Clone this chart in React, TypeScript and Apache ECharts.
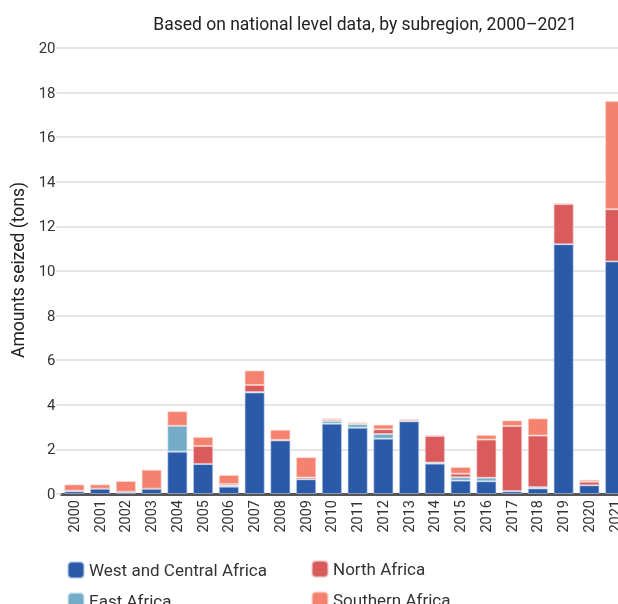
import React, { useEffect, useRef } from "react";
import * as echarts from "echarts";

const years = ["2000","2001","2002","2003","2004","2005","2006","2007","2008","2009","2010","2011","2012","2013","2014","2015","2016","2017","2018","2019","2020","2021"];
const westCentral = [0.12,0.24,0.08,0.24,1.9,1.35,0.33,4.55,2.4,0.66,3.15,2.97,2.48,3.26,1.36,0.6,0.57,0.12,0.25,11.2,0.39,10.43];
const eastAfrica = [0.03,0,0.02,0,1.16,0,0.05,0.02,0.01,0,0.12,0.16,0.21,0,0.05,0.15,0.16,0.02,0.06,0,0,0];
const northAfrica = [0,0,0,0,0,0.8,0.07,0.32,0.02,0.08,0.06,0.04,0.21,0.05,1.19,0.16,1.71,2.91,2.31,1.8,0.16,2.34];
const southernAfrica = [0.28,0.19,0.48,0.85,0.65,0.41,0.4,0.65,0.45,0.91,0.06,0.04,0.21,0.05,0.05,0.3,0.21,0.25,0.77,0.04,0.09,4.85];
const yTicks = { min: 0, max: 20, interval: 2 };

const FONT = "Roboto, 'Noto Sans', sans-serif";

export default function App() {
  const ref = useRef<HTMLDivElement>(null);
  useEffect(() => {
    if (!ref.current) return;
    const chart = echarts.init(ref.current, null, { renderer: "svg" });
    const mk = (name: string, data: number[], color: string, border: string) => ({
      name,
      type: "bar",
      stack: "total",
      data,
      barCategoryGap: "22%",
      itemStyle: { color, borderColor: border, borderWidth: 1 },
      emphasis: { disabled: true },
    });
    chart.setOption({
      animation: false,
      textStyle: { fontFamily: FONT },
      title: {
        text: "Based on national level data, by subregion, 2000–2021",
        left: 360,
        top: 10,
        textAlign: "center",
        textStyle: { fontFamily: FONT, fontSize: 17.5, fontWeight: "normal", color: "#222" },
      },
      grid: { left: 61.5, right: 12, top: 48, bottom: 146, containLabel: false },
      xAxis: {
        type: "category",
        data: years,
        axisTick: { show: false },
        axisLine: { lineStyle: { color: "#555", width: 3 } },
        axisLabel: { rotate: 90, fontSize: 14.5, color: "#333", margin: 6, fontFamily: FONT },
      },
      yAxis: {
        type: "value",
        min: yTicks.min,
        max: yTicks.max,
        interval: yTicks.interval,
        axisLine: { show: false },
        axisTick: { show: true, length: 5.5, lineStyle: { color: "#dcdcdc", width: 1.5 } },
        splitLine: { lineStyle: { color: "#dcdcdc", width: 1.5 } },
        axisLabel: { fontSize: 15, color: "#333", margin: 6, fontFamily: FONT },
      },
      legend: [
        {
          orient: "vertical",
          left: 67,
          top: 561,
          padding: 0,
          itemWidth: 16,
          itemHeight: 16,
          itemGap: 13,
          data: ["West and Central Africa", "East Africa"],
          textStyle: { fontSize: 17, color: "#333", fontFamily: FONT },
          selectedMode: false,
        },
        {
          orient: "vertical",
          left: 311,
          top: 560,
          padding: 0,
          itemWidth: 16,
          itemHeight: 16,
          itemGap: 13,
          data: ["North Africa", "Southern Africa"],
          textStyle: { fontSize: 17, color: "#333", fontFamily: FONT },
          selectedMode: false,
        },
      ],
      graphic: [
        {
          type: "text",
          x: 18,
          y: 270,
          rotation: Math.PI / 2,
          style: {
            text: "Amounts seized (tons)",
            font: `17.5px ${FONT}`,
            fill: "#222",
            align: "center",
            verticalAlign: "middle",
          },
        },
      ],
      series: [
        mk("West and Central Africa", westCentral, "#2a5aa8", "rgba(180,200,235,0.6)"),
        mk("East Africa", eastAfrica, "#74abc7", "rgba(210,230,240,0.6)"),
        mk("North Africa", northAfrica, "#da5b5b", "rgba(245,200,200,0.6)"),
        mk("Southern Africa", southernAfrica, "#f4826f", "rgba(252,215,205,0.6)"),
      ],
    });
    return () => chart.dispose();
  }, []);
  return (
    <div style={{ position: "fixed", left: 0, top: 0, width: 618, height: 604, overflow: "hidden" }}>
      <div ref={ref} style={{ width: 640, height: 640 }} />
    </div>
  );
}
